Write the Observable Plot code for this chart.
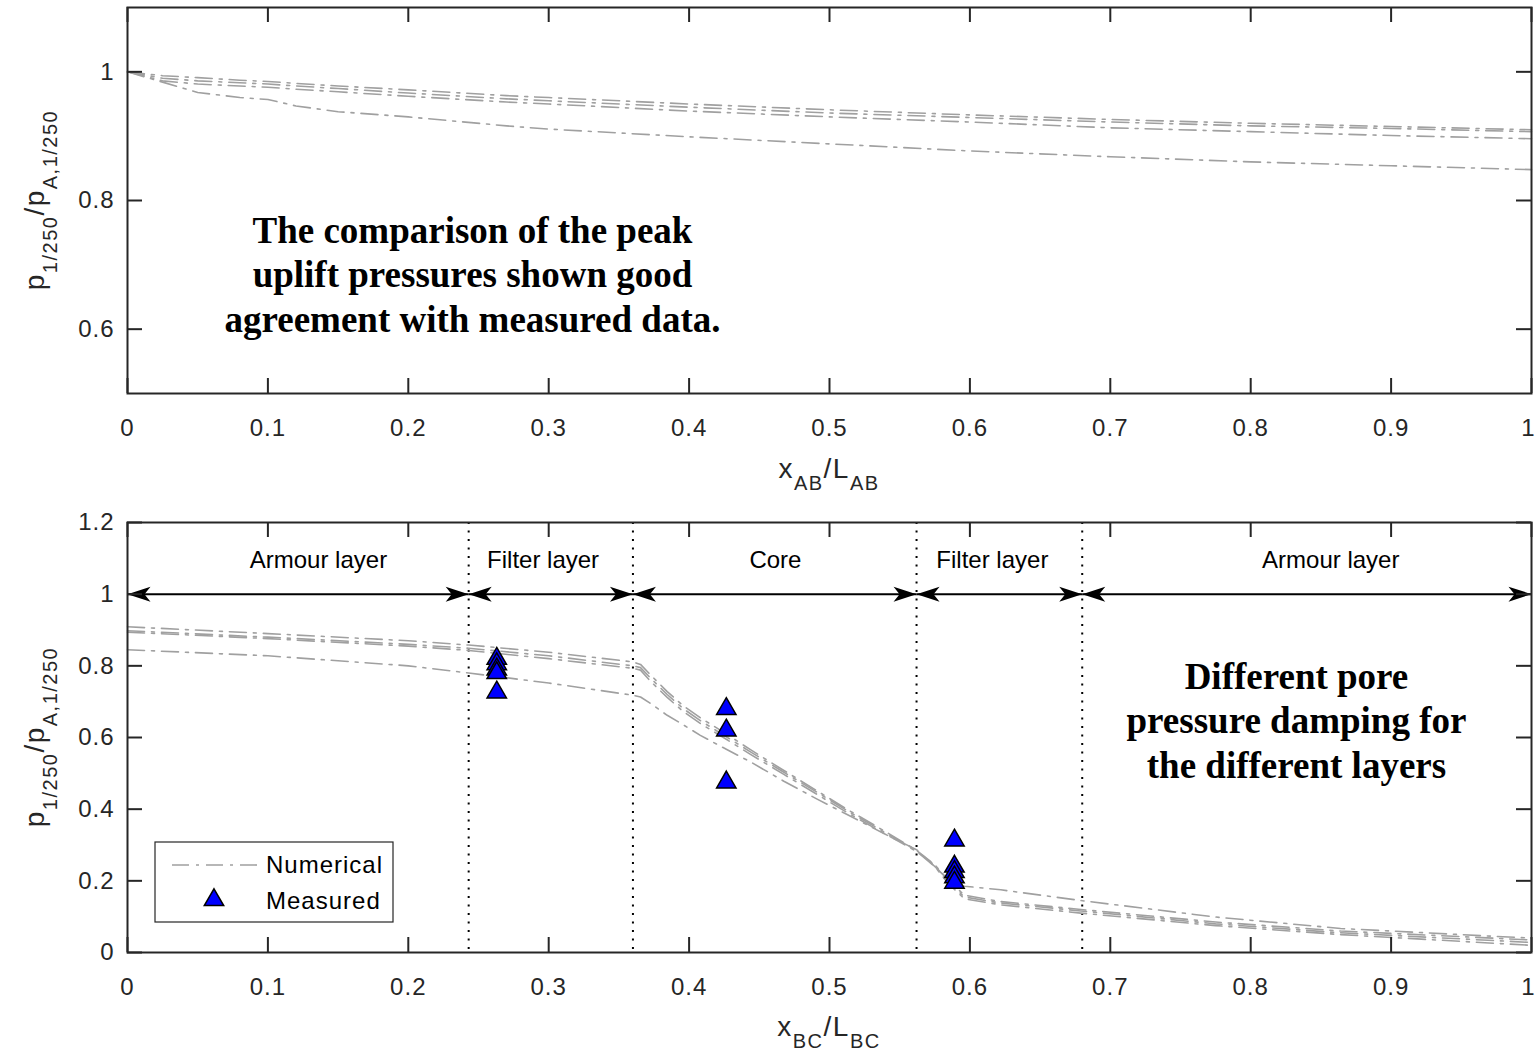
<!DOCTYPE html>
<html><head><meta charset="utf-8">
<script src="https://cdn.jsdelivr.net/npm/d3@7"></script>
<script src="https://cdn.jsdelivr.net/npm/@observablehq/plot@0.6"></script>
<style>
html,body{margin:0;padding:0;background:#fff;}
#chart{width:1536px;height:1055px;position:relative;overflow:hidden;background:#fff;}
#chart svg{display:block;}
[aria-label$="tick label"] text{letter-spacing:1px;}
</style></head>
<body><div id="chart"></div>
<script>
// ---------------- data ----------------
const xTicks = [0, 0.1, 0.2, 0.3, 0.4, 0.5, 0.6, 0.7, 0.8, 0.9, 1];
const xTickLabels = ["0", "0.1", "0.2", "0.3", "0.4", "0.5", "0.6", "0.7", "0.8", "0.9", "1"];
const topYTicks = [0.6, 0.8, 1];
const topYTickLabels = ["0.6", "0.8", "1"];
const botYTicks = [0, 0.2, 0.4, 0.6, 0.8, 1, 1.2];
const botYTickLabels = ["0", "0.2", "0.4", "0.6", "0.8", "1", "1.2"];

// top panel (section AB) numerical runs
const topX    = [0, 0.025, 0.05, 0.08, 0.1, 0.12, 0.15, 0.2, 0.27, 0.3, 0.4, 0.5, 0.6, 0.7, 0.8, 0.9, 1.0];
const topRun1 = [1, 0.994, 0.991, 0.987, 0.985, 0.982, 0.978, 0.972, 0.963, 0.960, 0.950, 0.941, 0.933, 0.926, 0.920, 0.915, 0.910];
const topRun2 = [1, 0.990, 0.986, 0.983, 0.981, 0.978, 0.974, 0.967, 0.958, 0.955, 0.945, 0.936, 0.929, 0.922, 0.916, 0.912, 0.907];
const topRun3 = [1, 0.986, 0.981, 0.978, 0.976, 0.973, 0.969, 0.962, 0.953, 0.950, 0.939, 0.930, 0.922, 0.913, 0.907, 0.901, 0.896];
const topRun4 = [1, 0.984, 0.968, 0.960, 0.957, 0.947, 0.938, 0.930, 0.916, 0.911, 0.899, 0.888, 0.877, 0.868, 0.860, 0.854, 0.848];

// bottom panel (section BC) numerical runs
const botX    = [0, 0.1, 0.2, 0.243, 0.3, 0.36, 0.3654, 0.3725, 0.3844, 0.396, 0.408, 0.4265, 0.4437, 0.4675, 0.4912, 0.515, 0.5387, 0.562, 0.575, 0.584, 0.596, 0.622, 0.679, 0.775, 0.864, 1.0];
const botRun1 = [0.909, 0.890, 0.870, 0.858, 0.838, 0.811, 0.804, 0.775, 0.728, 0.688, 0.655, 0.610, 0.566, 0.508, 0.451, 0.394, 0.340, 0.285, 0.245, 0.205, 0.160, 0.142, 0.120, 0.085, 0.060, 0.035];
const botRun2 = [0.898, 0.880, 0.860, 0.849, 0.828, 0.800, 0.795, 0.766, 0.720, 0.680, 0.647, 0.602, 0.560, 0.503, 0.447, 0.390, 0.337, 0.284, 0.243, 0.200, 0.155, 0.138, 0.116, 0.080, 0.055, 0.028];
const botRun3 = [0.894, 0.876, 0.855, 0.843, 0.820, 0.793, 0.788, 0.757, 0.712, 0.672, 0.639, 0.595, 0.553, 0.497, 0.441, 0.385, 0.333, 0.282, 0.240, 0.195, 0.150, 0.133, 0.110, 0.075, 0.050, 0.020];
const botRun4 = [0.845, 0.828, 0.800, 0.780, 0.752, 0.718, 0.713, 0.695, 0.662, 0.635, 0.606, 0.567, 0.532, 0.478, 0.428, 0.380, 0.332, 0.287, 0.240, 0.205, 0.185, 0.175, 0.145, 0.099, 0.067, 0.040];

// measured
const measX = [0.263, 0.263, 0.263, 0.263, 0.263, 0.4265, 0.4265, 0.4265, 0.589, 0.589, 0.589, 0.589, 0.589];
const measY = [0.820, 0.805, 0.790, 0.780, 0.726, 0.680, 0.620, 0.475, 0.313, 0.240, 0.225, 0.210, 0.195];

// layers
const layerBounds = [0, 0.243, 0.36, 0.562, 0.68, 1];
const layerNames = ["Armour layer", "Filter layer", "Core", "Filter layer", "Armour layer"];
const layerLabelX = [0.136, 0.296, 0.4615, 0.616, 0.857];
const layerLabelY = 1.095;
const arrowLevel = 1;

// annotations
const topNote = "The comparison of the peak\nuplift pressures shown good\nagreement with measured data.";
const topNoteX = 0.2457, topNoteY = 0.687;
const botNote = "Different pore\npressure damping for\nthe different layers";
const botNoteX = 0.8326, botNoteY = 0.651;

// ---------------- styles / layout ----------------
const W = 1536;
const topH = 500, botH = 555;
const mL = 127, mR = 5;
const topMT = 7, topMB = 107;
const botMT = 22, botMB = 103;
const tickLen = 15;
const axisColor = "#262626";
const lineColor = "#a0a0a0";
const dash = "17,7,3,7";
const sans = "'Liberation Sans', Arial, Helvetica, sans-serif";
const serif = "'Liberation Serif', 'Times New Roman', serif";

function rows(xs, series) {
  const out = [];
  series.forEach((ys, s) => ys.forEach((y, i) => out.push({x: xs[i], y, s})));
  return out;
}
const topRows = rows(topX, [topRun1, topRun2, topRun3, topRun4]);
const botRows = rows(botX, [botRun1, botRun2, botRun3, botRun4]);
const measRows = measX.map((x, i) => ({x, y: measY[i]}));

const lookup = (ticks, labels) => d => labels[ticks.findIndex(t => Math.abs(t - d) < 1e-9)];

function frameMarks(yTicks, yLabels, plotH) {
  const plotW = W - mL - mR;
  const st = {stroke: axisColor, strokeWidth: 2};
  const axText = {tickSize: 0, tickPadding: 25, label: null, fontSize: 24, fill: axisColor, tickFormat: lookup(xTicks, xTickLabels)};
  return [
    Plot.frame({stroke: axisColor, strokeWidth: 2}),
    Plot.tickX(xTicks, {x: d => d, insetTop: plotH - tickLen, ...st}),
    Plot.tickX(xTicks, {x: d => d, insetBottom: plotH - tickLen, ...st}),
    Plot.tickY(yTicks, {y: d => d, insetRight: plotW - tickLen, ...st}),
    Plot.tickY(yTicks, {y: d => d, insetLeft: plotW - tickLen, ...st}),
    Plot.axisX({ticks: xTicks.slice(0, -1), ...axText}),
    Plot.axisX({ticks: xTicks.slice(-1), ...axText, dx: -3}),
    Plot.axisY({ticks: yTicks, tickSize: 0, tickPadding: 13, label: null, fontSize: 24, fill: axisColor,
      tickFormat: lookup(yTicks, yLabels)})
  ];
}

function addXLabel(svg, baseline, sub) {
  const t = d3.select(svg).append("text")
    .attr("x", mL + (W - mL - mR) / 2).attr("y", baseline)
    .attr("text-anchor", "middle").attr("font-family", sans)
    .attr("font-size", 28).attr("fill", axisColor).style("letter-spacing", "1.5px");
  t.append("tspan").text("x");
  t.append("tspan").attr("dy", 12).attr("font-size", 20).text(sub);
  t.append("tspan").attr("dy", -12).text("/L");
  t.append("tspan").attr("dy", 12).attr("font-size", 20).text(sub);
}
function addYLabel(svg, cy) {
  const t = d3.select(svg).append("text")
    .attr("transform", `translate(44,${cy}) rotate(-90)`)
    .attr("text-anchor", "middle").attr("font-family", sans)
    .attr("font-size", 28).attr("fill", axisColor).style("letter-spacing", "1.5px");
  t.append("tspan").text("p");
  t.append("tspan").attr("dy", 13).attr("font-size", 20).text("1/250");
  t.append("tspan").attr("dy", -13).text("/p");
  t.append("tspan").attr("dy", 13).attr("font-size", 20).text("A,1/250");
}

// ---------------- top panel ----------------
const topPlot = Plot.plot({
  width: W, height: topH,
  marginLeft: mL, marginRight: mR, marginTop: topMT, marginBottom: topMB,
  style: {fontFamily: sans, background: "white", overflow: "visible"},
  x: {domain: [0, 1]},
  y: {domain: [0.5, 1.1]},
  marks: [
    Plot.line(topRows, {x: "x", y: "y", z: "s", stroke: lineColor, strokeWidth: 1.6, strokeDasharray: dash}),
    Plot.text([{x: topNoteX, y: topNoteY, t: topNote}], {x: "x", y: "y", text: "t",
      fontFamily: serif, fontWeight: "bold", fontSize: 37, lineHeight: 1.2, fill: "black",
      textAnchor: "middle", lineAnchor: "middle"}),
    ...frameMarks(topYTicks, topYTickLabels, topH - topMT - topMB)
  ]
});
addXLabel(topPlot, 478, "AB");
addYLabel(topPlot, topMT + (topH - topMT - topMB) / 2);

// ---------------- bottom panel ----------------
function headSymbol(dir) {
  const L = 23, Wd = 7.5, N = 17;
  return {draw(ctx) {
    ctx.moveTo(0, 0);
    ctx.lineTo(dir * L, -Wd);
    ctx.lineTo(dir * N, 0);
    ctx.lineTo(dir * L, Wd);
    ctx.closePath();
  }};
}
const segs = layerBounds.slice(0, -1).map((x1, i) => ({x1, x2: layerBounds[i + 1], y: arrowLevel}));
const leftHeads = segs.map(d => ({x: d.x1, y: d.y}));
const rightHeads = segs.map(d => ({x: d.x2, y: d.y}));
const labels = layerNames.map((name, i) => ({x: layerLabelX[i], y: layerLabelY, name}));

const botPlot = Plot.plot({
  width: W, height: botH,
  marginLeft: mL, marginRight: mR, marginTop: botMT, marginBottom: botMB,
  style: {fontFamily: sans, background: "white", overflow: "visible"},
  x: {domain: [0, 1]},
  y: {domain: [0, 1.2]},
  marks: [
    Plot.ruleX(layerBounds.slice(1, -1), {x: d => d, stroke: "black", strokeWidth: 2, strokeDasharray: "2,6.5"}),
    Plot.link(segs, {x1: "x1", x2: "x2", y1: "y", y2: "y", stroke: "black", strokeWidth: 2}),
    Plot.dot(leftHeads, {x: "x", y: "y", symbol: headSymbol(1), r: 10, fill: "black", stroke: "none"}),
    Plot.dot(rightHeads, {x: "x", y: "y", symbol: headSymbol(-1), r: 10, fill: "black", stroke: "none"}),
    Plot.text(labels, {x: "x", y: "y", text: "name", fontSize: 24, fill: "black", textAnchor: "middle", lineAnchor: "middle"}),
    Plot.line(botRows, {x: "x", y: "y", z: "s", stroke: lineColor, strokeWidth: 1.6, strokeDasharray: dash}),
    Plot.dot(measRows, {x: "x", y: "y", symbol: "triangle", r: 7.2, fill: "#0000ff", stroke: "black", strokeWidth: 1.5}),
    Plot.text([{x: botNoteX, y: botNoteY, t: botNote}], {x: "x", y: "y", text: "t",
      fontFamily: serif, fontWeight: "bold", fontSize: 37, lineHeight: 1.2, fill: "black",
      textAnchor: "middle", lineAnchor: "middle"}),
    ...frameMarks(botYTicks, botYTickLabels, botH - botMT - botMB)
  ]
});
addXLabel(botPlot, 536, "BC");
addYLabel(botPlot, botMT + (botH - botMT - botMB) / 2);

// legend (inside lower axes)
{
  const g = d3.select(botPlot).append("g").attr("font-family", sans).attr("font-size", 24)
    .attr("text-anchor", "start");
  g.append("rect").attr("x", 155).attr("y", 342).attr("width", 238).attr("height", 80)
    .attr("fill", "white").attr("stroke", axisColor).attr("stroke-width", 1.2);
  g.append("line").attr("x1", 172).attr("x2", 257).attr("y1", 365).attr("y2", 365)
    .attr("stroke", lineColor).attr("stroke-width", 1.6).attr("stroke-dasharray", dash);
  g.append("text").attr("x", 266).attr("y", 365).attr("dy", "0.35em").attr("fill", "black")
    .attr("text-anchor", "start").style("letter-spacing", "1px").text("Numerical");
  g.append("path").attr("transform", "translate(214,400)")
    .attr("d", d3.symbol(d3.symbolTriangle, 7.2 * 7.2 * Math.PI)())
    .attr("fill", "#0000ff").attr("stroke", "black").attr("stroke-width", 1.5);
  g.append("text").attr("x", 266).attr("y", 401).attr("dy", "0.35em").attr("fill", "black")
    .attr("text-anchor", "start").style("letter-spacing", "1px").text("Measured");
}

const chart = document.getElementById("chart");
chart.appendChild(topPlot);
chart.appendChild(botPlot);
</script>
</body></html>
